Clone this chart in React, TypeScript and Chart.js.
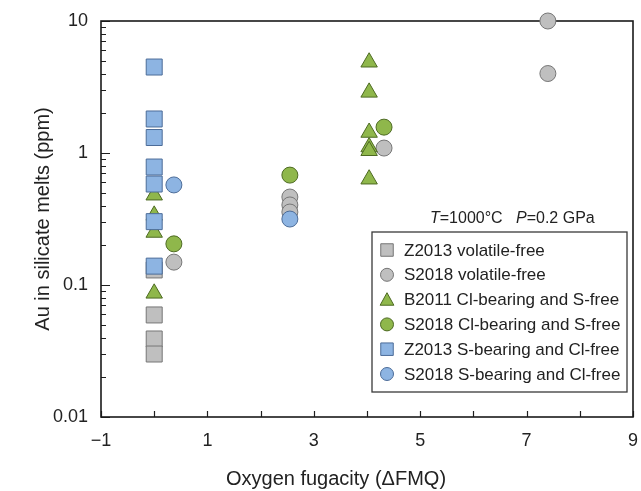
import React, { useEffect, useRef } from 'react';
import { Chart, registerables } from 'chart.js';

Chart.register(...registerables);

// ---- data ----
const seriesNames = [
  'Z2013 volatile-free',
  'S2018 volatile-free',
  'B2011 Cl-bearing and S-free',
  'S2018 Cl-bearing and S-free',
  'Z2013 S-bearing and Cl-free',
  'S2018 S-bearing and Cl-free',
];

const z2013VolFreeX = [0, 0, 0, 0];
const z2013VolFreeY = [0.13, 0.0593, 0.039, 0.03];

const s2018VolFreeX = [0.37, 2.55, 2.55, 2.55, 4.32, 7.4, 7.4];
const s2018VolFreeY = [0.149, 0.464, 0.404, 0.357, 1.09, 10, 4.0];

const b2011X = [0, 0, 0, 0, 4.04, 4.04, 4.04, 4.04, 4.04, 4.04];
const b2011Y = [0.479, 0.337, 0.25, 0.0865, 4.87, 2.88, 1.43, 1.11, 1.04, 0.633];

const s2018ClX = [0.37, 2.55, 4.32];
const s2018ClY = [0.205, 0.68, 1.57];

const z2013SX = [0, 0, 0, 0, 0, 0, 0];
const z2013SY = [4.48, 1.81, 1.31, 0.783, 0.582, 0.302, 0.139];

const s2018SX = [0.37, 2.55];
const s2018SY = [0.573, 0.316];

const xTickValues = [-1, 0, 1, 2, 3, 4, 5, 6, 7, 8, 9];
const xLabelValues = [-1, 1, 3, 5, 7, 9];
const xLabels = ['\u22121', '1', '3', '5', '7', '9'];
const yMajorValues = [0.01, 0.1, 1, 10];
const yLabels = ['0.01', '0.1', '1', '10'];
const yMinorMultipliers = [2, 3, 4, 5, 6, 7, 8, 9];

const xTitle = 'Oxygen fugacity (\u0394FMQ)';
const yTitle = 'Au in silicate melts (ppm)';

// ---- styles ----
const GRAY = { fill: '#bfbfbf', stroke: '#767676' };
const GREEN = { fill: '#8fb74b', stroke: '#4d6a22' };
const BLUE = { fill: '#8db4e2', stroke: '#4c6c98' };
const FONT = '"Liberation Sans", Arial, sans-serif';

const seriesStyles = [
  { shape: 'rect', c: GRAY },
  { shape: 'circle', c: GRAY },
  { shape: 'triangle', c: GREEN },
  { shape: 'circle', c: GREEN },
  { shape: 'rect', c: BLUE },
  { shape: 'circle', c: BLUE },
];

const seriesX = [z2013VolFreeX, s2018VolFreeX, b2011X, s2018ClX, z2013SX, s2018SX];
const seriesY = [z2013VolFreeY, s2018VolFreeY, b2011Y, s2018ClY, z2013SY, s2018SY];

const radiusFor = (shape: string) => (shape === 'rect' ? 11.3 : shape === 'triangle' ? 9.5 : 8);

function drawMarker(ctx: CanvasRenderingContext2D, shape: string, x: number, y: number, size: number, c: any) {
  ctx.beginPath();
  if (shape === 'rect') {
    ctx.rect(x - size / 2, y - size / 2, size, size);
  } else if (shape === 'circle') {
    ctx.arc(x, y, size / 2, 0, Math.PI * 2);
  } else {
    ctx.moveTo(x, y - size * 0.55);
    ctx.lineTo(x + size * 0.55, y + size * 0.45);
    ctx.lineTo(x - size * 0.55, y + size * 0.45);
    ctx.closePath();
  }
  ctx.fillStyle = c.fill;
  ctx.fill();
  ctx.lineWidth = 1;
  ctx.strokeStyle = c.stroke;
  ctx.stroke();
}

const framePlugin = {
  id: 'frameTicks',
  beforeDatasetsDraw(chart: any) {
    const { ctx, chartArea: a, scales } = chart;
    const xs = scales.x;
    const ys = scales.y;
    ctx.save();
    ctx.strokeStyle = '#1e1e1e';
    ctx.lineWidth = 1.2;
    ctx.beginPath();
    for (const v of xTickValues) {
      const px = Math.round(xs.getPixelForValue(v)) + 0.5;
      ctx.moveTo(px, a.bottom);
      ctx.lineTo(px, a.bottom - 6);
    }
    for (const major of yMajorValues) {
      const py = Math.round(ys.getPixelForValue(major)) + 0.5;
      ctx.moveTo(a.left, py);
      ctx.lineTo(a.left + 9, py);
      if (major >= 10) continue;
      for (const m of yMinorMultipliers) {
        const pm = Math.round(ys.getPixelForValue(major * m)) + 0.5;
        ctx.moveTo(a.left, pm);
        ctx.lineTo(a.left + 5, pm);
      }
    }
    ctx.stroke();
    ctx.lineWidth = 1.6;
    ctx.strokeStyle = '#1a1a1a';
    ctx.strokeRect(a.left, a.top, a.right - a.left, a.bottom - a.top);

    // axis titles
    ctx.fillStyle = '#222';
    ctx.font = `20px ${FONT}`;
    ctx.textAlign = 'center';
    ctx.textBaseline = 'middle';
    ctx.fillText(xTitle, 336, 479);
    ctx.save();
    ctx.translate(43, (a.top + a.bottom) / 2);
    ctx.rotate(-Math.PI / 2);
    ctx.fillText(yTitle, 0, 0);
    ctx.restore();
    ctx.restore();
  },
  afterDatasetsDraw(chart: any) {
    const { ctx } = chart;
    ctx.save();
    // annotation
    const ax = 430;
    const ay = 219;
    ctx.fillStyle = '#222';
    ctx.textBaseline = 'middle';
    ctx.textAlign = 'left';
    const parts: [string, boolean][] = [
      ['T', true],
      ['=1000\u00b0C   ', false],
      ['P', true],
      ['=0.2 GPa', false],
    ];
    let cx = ax;
    for (const [t, it] of parts) {
      ctx.font = `${it ? 'italic ' : ''}16px ${FONT}`;
      ctx.fillText(t, cx, ay);
      cx += ctx.measureText(t).width;
    }
    // legend box
    const bx = 372;
    const by = 232;
    const bw = 255;
    const bh = 160;
    ctx.fillStyle = '#ffffff';
    ctx.fillRect(bx, by, bw, bh);
    ctx.lineWidth = 1.3;
    ctx.strokeStyle = '#3a3a3a';
    ctx.strokeRect(bx, by, bw, bh);
    ctx.font = `17px ${FONT}`;
    seriesNames.forEach((name, i) => {
      const ry = by + 18 + i * 24.8;
      const st = seriesStyles[i];
      drawMarker(ctx, st.shape, bx + 15, ry, st.shape === 'circle' ? 13 : 12.5, st.c);
      ctx.fillStyle = '#222';
      ctx.textAlign = 'left';
      ctx.textBaseline = 'middle';
      ctx.fillText(name, bx + 32, ry + 1);
    });
    ctx.restore();
  },
};

export default function App() {
  const ref = useRef<HTMLCanvasElement | null>(null);
  useEffect(() => {
    if (!ref.current) return;
    const n = seriesNames.length;
    const datasets = seriesNames.map((name, i) => {
      const st = seriesStyles[i];
      return {
        label: name,
        data: seriesX[i].map((x, j) => ({ x, y: seriesY[i][j] })),
        pointStyle: st.shape,
        pointRadius: radiusFor(st.shape),
        pointHoverRadius: radiusFor(st.shape),
        pointBackgroundColor: st.c.fill,
        pointBorderColor: st.c.stroke,
        pointBorderWidth: 1,
        backgroundColor: st.c.fill,
        borderColor: st.c.stroke,
        showLine: false,
        clip: false as any,
        order: n - 1 - i,
      };
    });
    const chart = new Chart(ref.current, {
      type: 'scatter',
      data: { datasets },
      plugins: [framePlugin],
      options: {
        animation: false,
        responsive: false,
        maintainAspectRatio: false,
        events: [],
        layout: { autoPadding: false, padding: { left: 0, right: 8, top: 21, bottom: 0 } },
        plugins: { legend: { display: false }, tooltip: { enabled: false }, title: { display: false } },
        scales: {
          x: {
            type: 'linear',
            min: -1,
            max: 9,
            grid: { display: false, drawTicks: false },
            border: { display: false },
            afterBuildTicks: (s: any) => {
              s.ticks = xLabelValues.map((v) => ({ value: v }));
            },
            afterFit: (s: any) => {
              s.height = 74;
              s.paddingLeft = 0;
              s.paddingRight = 0;
            },
            ticks: {
              autoSkip: false,
              maxRotation: 0,
              padding: 13,
              color: '#222',
              font: { family: FONT, size: 18 },
              callback: (v: any) => {
                const k = xLabelValues.indexOf(Number(v));
                return k >= 0 ? xLabels[k] : '';
              },
            },
          },
          y: {
            type: 'logarithmic',
            min: 0.01,
            max: 10,
            grid: { display: false, drawTicks: false },
            border: { display: false },
            afterBuildTicks: (s: any) => {
              s.ticks = yMajorValues.map((v) => ({ value: v, major: true }));
            },
            afterFit: (s: any) => {
              s.width = 101;
              s.paddingTop = 0;
              s.paddingBottom = 0;
            },
            ticks: {
              autoSkip: false,
              padding: 13,
              color: '#222',
              font: { family: FONT, size: 18 },
              callback: (v: any) => {
                const k = yMajorValues.findIndex((m) => Math.abs(m - Number(v)) / m < 1e-6);
                return k >= 0 ? yLabels[k] : '';
              },
            },
          },
        },
      } as any,
    });
    return () => chart.destroy();
  }, []);
  return (
    <div style={{ position: 'absolute', left: 0, top: 0, width: 641, height: 491, background: '#fff' }}>
      <canvas ref={ref} width={641} height={491} style={{ width: 641, height: 491, display: 'block' }} />
    </div>
  );
}
